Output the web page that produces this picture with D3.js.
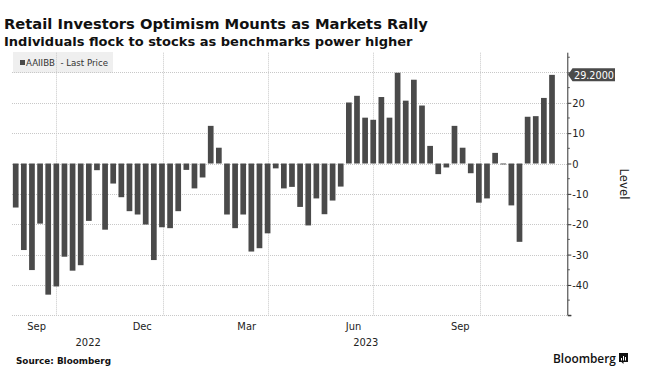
<!DOCTYPE html>
<html><head><meta charset="utf-8">
<script src="https://cdn.jsdelivr.net/npm/d3@7"></script>
<style>html,body{margin:0;padding:0;background:#fff;} svg{display:block}</style>
</head><body><svg id="c" width="645" height="371"></svg>
<script>
const dates = [
 "2022-08-26","2022-09-02","2022-09-09","2022-09-16","2022-09-23","2022-09-30","2022-10-07","2022-10-14","2022-10-21","2022-10-28",
 "2022-11-04","2022-11-11","2022-11-18","2022-11-25","2022-12-02","2022-12-09","2022-12-16","2022-12-23","2022-12-30",
 "2023-01-06","2023-01-13","2023-01-20","2023-01-27","2023-02-03","2023-02-10","2023-02-17","2023-02-24","2023-03-03","2023-03-10",
 "2023-03-17","2023-03-24","2023-03-31","2023-04-07","2023-04-14","2023-04-21","2023-04-28","2023-05-05","2023-05-12","2023-05-19",
 "2023-05-26","2023-06-02","2023-06-09","2023-06-16","2023-06-23","2023-06-30","2023-07-07","2023-07-14","2023-07-21","2023-07-28",
 "2023-08-04","2023-08-11","2023-08-18","2023-08-25","2023-09-01","2023-09-08","2023-09-15","2023-09-22","2023-09-29","2023-10-06",
 "2023-10-13","2023-10-20","2023-10-27","2023-11-03","2023-11-10","2023-11-17","2023-11-24","2023-12-01"];
const values = [
 -14.5,-28.5,-35.1,-19.8,-43.2,-40.5,-30.7,-35.3,-33.5,-18.9,
 -2.2,-21.8,-6.6,-11.1,-15.7,-16.8,-20.1,-31.8,-21.0,
 -21.3,-15.7,-2.1,-8.2,-4.6,12.4,5.2,-16.8,-21.3,-16.8,
 -29.0,-27.9,-23.0,-1.6,-8.2,-7.7,-14.3,-20.4,-11.5,-16.7,
 -12.2,-7.6,20.1,22.3,15.1,14.4,21.9,15.1,29.9,20.7,
 27.6,19.1,5.8,-3.5,-1.3,12.4,5.2,-3.2,-12.9,-11.5,
 3.5,-0.3,-13.8,-25.8,15.4,15.6,21.6,29.2];
const yTickLabels = [-40,-30,-20,-10,0,10,20];
const yGrid = [-50,-40,-30,-20,-10,0,10,20,30];
const yMinor = [-45,-35,-25,-15,-5,5,15,25,35];
const monthGrid = ["2022-10-01","2023-01-01","2023-04-01","2023-07-01","2023-10-01"];
const monthLabels = [["2022-09-13","Sep"],["2022-12-13","Dec"],["2023-03-13","Mar"],["2023-06-13","Jun"],["2023-09-13","Sep"]];
const years = [["2022","2022-01-01","2023-01-01"],["2023","2023-01-01","2024-01-01"]];
const lastLabel = "29.2000";
const title = "Retail Investors Optimism Mounts as Markets Rally";
const subtitle = "Individuals flock to stocks as benchmarks power higher";
const legendText = "AAIIBB  - Last Price";
const source = "Source: Bloomberg";

const parse = d3.utcParse("%Y-%m-%d");
const svg = d3.select("#c");
const L = 12, R = 567.3, T = 52.7, B = 315.3;
const x = d3.scaleUtc().domain([parse(dates[0]), parse(dates[dates.length-1])]).range([15.7, 552]);
const y = d3.scaleLinear().domain([-50, 36.5]).range([B, T]);
const tickFont = "'DejaVu Sans Condensed','DejaVu Sans',sans-serif";
const barColor = "#4a4a4a";

function fit(sel, w){
  let fs = parseFloat(sel.attr("font-size"));
  const len = sel.node().getComputedTextLength();
  sel.attr("font-size", (fs * w / len).toFixed(2));
  return sel;
}

// titles
fit(svg.append("text").attr("x",4).attr("y",29).attr("font-family","'DejaVu Sans',sans-serif")
  .attr("font-weight","bold").attr("font-size",17).attr("fill","#111").text(title), 424);
fit(svg.append("text").attr("x",4).attr("y",45.5).attr("font-family","'DejaVu Sans',sans-serif")
  .attr("font-weight","bold").attr("font-size",12).attr("fill","#111").text(subtitle), 409);

// legend box
svg.append("rect").attr("x",13).attr("y",52).attr("width",100).attr("height",21).attr("fill","#efefef");
svg.append("rect").attr("x",20).attr("y",60).attr("width",5).attr("height",5).attr("fill",barColor);
fit(svg.append("text").attr("x",26).attr("y",66).attr("font-family",tickFont).attr("font-size",10)
  .attr("fill","#333").attr("xml:space","preserve").style("white-space","pre").text(legendText), 82);

// gridlines
const grid = svg.append("g").attr("stroke","#c8c8c8").attr("stroke-width",1).attr("stroke-dasharray","1,1");
grid.selectAll("line.h").data(yGrid).join("line").attr("class","h")
  .attr("x1",L).attr("x2",R).attr("y1",d=>Math.round(y(d))+0.5).attr("y2",d=>Math.round(y(d))+0.5);
grid.selectAll("line.v").data(monthGrid).join("line").attr("class","v")
  .attr("x1",d=>Math.round(x(parse(d)))-0.5).attr("x2",d=>Math.round(x(parse(d)))-0.5).attr("y1",T).attr("y2",B);

// bars
const bw = 5.7;
svg.append("g").selectAll("rect").data(values).join("rect")
  .attr("x",(d,i)=>x(parse(dates[i]))-bw/2).attr("width",bw)
  .attr("y",d=>y(Math.max(0,d))).attr("height",d=>Math.max(0.8,Math.abs(y(d)-y(0))))
  .attr("fill",barColor);

// right axis
const ax = svg.append("g").attr("transform",`translate(${R},0)`);
ax.call(d3.axisRight(y).tickValues(yGrid).tickSize(4).tickFormat(d=>yTickLabels.includes(d)?String(d):""));
ax.select(".domain").attr("d",`M0.5,${T}V${B}H4`).attr("stroke","#333");
ax.selectAll(".tick line").attr("stroke","#333").attr("x1",0.5);
ax.selectAll(".tick text").attr("x",5).attr("font-family",tickFont).attr("font-size",11).attr("fill","#222");
ax.selectAll(".minor").data(yMinor).join("line").attr("class","minor")
  .attr("x1",0.5).attr("x2",2.5).attr("y1",d=>y(d)).attr("y2",d=>y(d)).attr("stroke","#555");

// last price tag
const ty = y(values[values.length-1]);
svg.append("path").attr("d",`M568,${ty} L572.5,${ty-6.5} H615 V${ty+6.5} H572.5 Z`).attr("fill","#4a4a4a");
fit(svg.append("text").attr("x",574).attr("y",ty+4).attr("font-family",tickFont)
  .attr("font-size",11).attr("fill","#fff").text(lastLabel), 40);

// Level
svg.append("text").attr("transform","translate(620,184) rotate(90)").attr("text-anchor","middle")
  .attr("font-family",tickFont).attr("font-size",13).attr("fill","#222").text("Level");

// month labels
svg.append("g").selectAll("text").data(monthLabels).join("text")
  .attr("x",d=>x(parse(d[0]))).attr("y",330).attr("text-anchor","middle")
  .attr("font-family",tickFont).attr("font-size",11).attr("fill","#222").text(d=>d[1]);
svg.append("g").selectAll("text").data(years).join("text")
  .attr("x",d=>{const a=Math.max(L,x(parse(d[1]))), b=Math.min(R,x(parse(d[2]))); return (a+b)/2;})
  .attr("y",346).attr("text-anchor","middle")
  .attr("font-family",tickFont).attr("font-size",11).attr("fill","#222").text(d=>d[0]);

// source & logo
fit(svg.append("text").attr("x",16).attr("y",363.5).attr("font-family","'DejaVu Sans',sans-serif")
  .attr("font-weight","bold").attr("font-size",9).attr("fill","#111").text(source), 95);
fit(svg.append("text").attr("x",553).attr("y",363).attr("font-family","'Open Sans',sans-serif")
  .attr("font-weight",600).attr("font-size",12).attr("fill","#111").text("Bloomberg"), 63);
svg.append("rect").attr("x",619).attr("y",353).attr("width",9).attr("height",9).attr("fill","#111");
svg.append("path").attr("d","M621.5,362 L623.5,364 V362 Z").attr("fill","#111");
[[621.5,358],[623.5,356],[625.5,357]].forEach(([px,py])=>svg.append("line").attr("x1",px).attr("x2",px)
  .attr("y1",py).attr("y2",360.5).attr("stroke","#fff").attr("stroke-width",1));
</script></body></html>
